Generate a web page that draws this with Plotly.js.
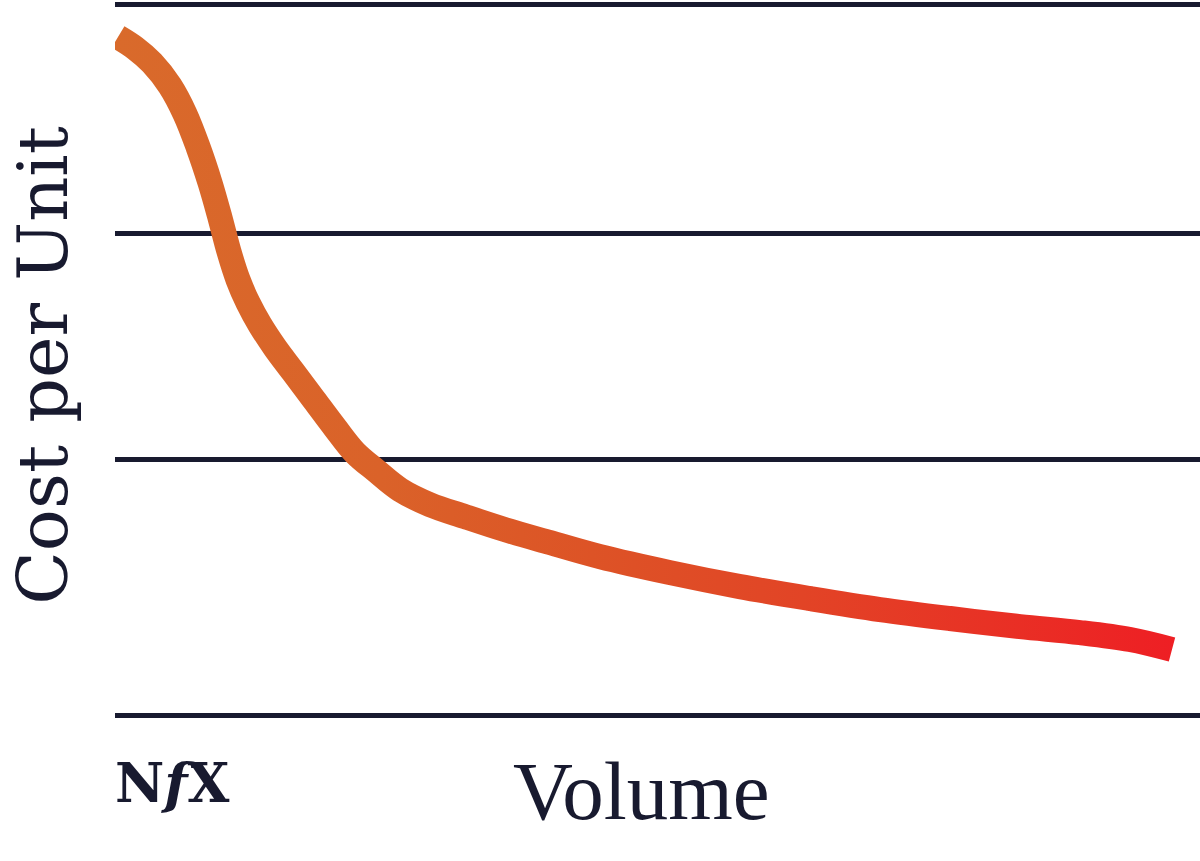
<!DOCTYPE html>
<html>
<head>
<meta charset="utf-8">
<script src="https://cdn.plot.ly/plotly-3.0.1.min.js"></script>
<style>
  html, body { margin: 0; padding: 0; background: #ffffff; }
  #chart { width: 1200px; height: 861px; }
</style>
</head>
<body>
<div id="chart"></div>
<script>
// Data (relative units: volume 0-100, cost 0-100)
const volume = [0.28, 1.84, 3.41, 5.07, 6.45, 7.65, 8.76, 9.68, 10.51, 11.34, 12.26, 13.36,
                14.75, 16.41, 18.34, 20.28, 22.12, 24.06, 26.27, 29.03, 32.26, 35.94,
                40.09, 44.70, 51.15, 57.60, 64.06, 70.51, 76.96, 83.41, 88.94, 93.55, 97.42];
const costPerUnit = [94.81, 93.27, 91.17, 87.95, 84.02, 79.40, 74.35, 69.45, 64.68, 60.76, 57.53, 54.45,
                     51.23, 47.86, 43.94, 40.01, 36.51, 33.99, 31.32, 29.22, 27.54, 25.72,
                     23.90, 21.93, 19.69, 17.73, 16.05, 14.51, 13.25, 12.12, 11.28, 10.30, 8.90];
const gridLevels = [35.5, 67.2, 99.3];
const xTitle = "Volume";
const yTitle = "Cost per Unit";
const logoText = "N<i>f</i>X";

const NAVY = "#181a2f";

const trace = {
  type: "scatter",
  mode: "lines",
  x: volume,
  y: costPerUnit,
  line: { color: "#d96a2b", width: 25, shape: "spline", smoothing: 1, simplify: false },
  cliponaxis: false,
  hoverinfo: "skip",
  showlegend: false
};

const layout = {
  width: 1200,
  height: 861,
  margin: { l: 115, r: 0, t: 0, b: 147.5 },
  paper_bgcolor: "#ffffff",
  plot_bgcolor: "#ffffff",
  showlegend: false,
  xaxis: {
    range: [0, 100],
    showgrid: false,
    zeroline: false,
    showticklabels: false,
    ticks: "",
    showline: true,
    linecolor: NAVY,
    linewidth: 5,
    fixedrange: true
  },
  yaxis: {
    range: [0, 100],
    tickvals: gridLevels,
    showgrid: true,
    gridcolor: NAVY,
    gridwidth: 5,
    zeroline: false,
    showticklabels: false,
    ticks: "",
    showline: false,
    fixedrange: true
  },
  annotations: [
    {
      text: xTitle, xref: "paper", yref: "paper",
      x: 0.4857, y: -0.1100, xanchor: "center", yanchor: "middle",
      showarrow: false,
      font: { family: "Liberation Serif, Times New Roman, serif", size: 83, color: NAVY }
    },
    {
      text: yTitle, xref: "paper", yref: "paper",
      x: -0.0664, y: 0.4884, xanchor: "center", yanchor: "middle",
      textangle: -90, showarrow: false,
      font: { family: "DejaVu Serif, serif", size: 70, color: NAVY }
    },
    {
      text: logoText, xref: "paper", yref: "paper",
      x: -0.002, y: -0.0975, xanchor: "left", yanchor: "middle",
      showarrow: false,
      font: { family: "DejaVu Serif, serif", size: 54, color: NAVY, weight: 700 }
    }
  ]
};

Plotly.newPlot("chart", [trace], layout, { displayModeBar: false, staticPlot: true }).then(function (gd) {
  const svg = gd.querySelector(".main-svg");
  const NS = "http://www.w3.org/2000/svg";
  let defs = svg.querySelector("defs");
  if (!defs) { defs = document.createElementNS(NS, "defs"); svg.insertBefore(defs, svg.firstChild); }
  const grad = document.createElementNS(NS, "linearGradient");
  grad.setAttribute("id", "costGradient");
  grad.setAttribute("x1", "0"); grad.setAttribute("y1", "0");
  grad.setAttribute("x2", "1"); grad.setAttribute("y2", "0");
  [["0", "#d96a2b"], ["0.25", "#da6229"], ["0.45", "#dd5326"], ["0.65", "#e24426"], ["1", "#ee1f24"]].forEach(function (s) {
    const st = document.createElementNS(NS, "stop");
    st.setAttribute("offset", s[0]);
    st.setAttribute("stop-color", s[1]);
    grad.appendChild(st);
  });
  defs.appendChild(grad);
  gd.querySelectorAll(".scatterlayer .js-line").forEach(function (p) {
    p.style.stroke = "url(#costGradient)";
  });
});
</script>
</body>
</html>
